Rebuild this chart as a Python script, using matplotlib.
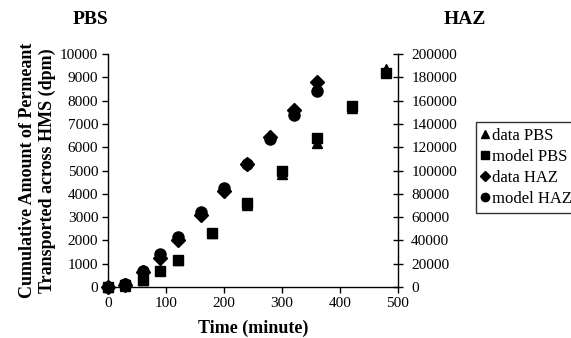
import matplotlib
matplotlib.use('Agg')
from matplotlib import pyplot as plt

plt.rcParams['font.family'] = ['Liberation Serif', 'DejaVu Serif']

# PBS (left axis)
t_pbs = [0, 30, 60, 90, 120, 180, 240, 300, 360, 420, 480]
data_pbs = [0, 40, 285, 710, 1170, 2310, 3500, 4860, 6170, 7680, 9350]
model_pbs = [0, 70, 310, 670, 1140, 2330, 3610, 4960, 6390, 7750, 9200]

# HAZ (right axis)
t_haz = [0, 30, 60, 90, 120, 160, 200, 240, 280, 320, 360]
data_haz = [0, 1400, 12900, 25000, 40000, 61400, 82000, 106000, 128600, 152000, 175700]
model_haz = [0, 2300, 13700, 28000, 42900, 64000, 85000, 106000, 127000, 148000, 168600]

fig = plt.figure(figsize=(5.71, 3.38), dpi=100)
ax = fig.add_axes([108 / 571, 1 - 287 / 338, 290 / 571, 233 / 338])
ax2 = ax.twinx()

h1, = ax.plot(t_pbs, data_pbs, '^', color='black', ms=7.5, clip_on=False, label='data PBS')
h2, = ax.plot(t_pbs, model_pbs, 's', color='black', ms=7, clip_on=False, label='model PBS')
h3, = ax2.plot(t_haz, data_haz, 'D', color='black', ms=7, clip_on=False, label='data HAZ')
h4, = ax2.plot(t_haz, model_haz, 'o', color='black', ms=8, clip_on=False, label='model HAZ')

ax.set_xlim(0, 500)
ax.set_ylim(0, 10000)
ax2.set_ylim(0, 200000)
ax.set_xticks(range(0, 501, 100))
ax.set_yticks(range(0, 10001, 1000))
ax2.set_yticks(range(0, 200001, 20000))

for a in (ax, ax2):
    a.spines['top'].set_visible(False)
    for s in a.spines.values():
        s.set_linewidth(1.0)
ax.spines['right'].set_visible(False)
ax2.spines['left'].set_visible(False)
ax2.spines['bottom'].set_visible(False)

ax.tick_params(axis='both', direction='out', length=4, width=1, labelsize=11, pad=3)
ax2.tick_params(axis='y', direction='inout', length=7, width=1, labelsize=11, pad=6)

ax.set_xlabel('Time (minute)', fontsize=13, fontweight='bold', labelpad=7)
ax.set_ylabel('Cumulative Amount of Permeant\nTransported across HMS (dpm)',
              fontsize=13, fontweight='bold', labelpad=3)

fig.text(91 / 571, 1 - 20 / 338, 'PBS', fontsize=14, fontweight='bold', ha='center', va='center')
fig.text(465 / 571, 1 - 20 / 338, 'HAZ', fontsize=14, fontweight='bold', ha='center', va='center')

leg = fig.legend(handles=[h1, h2, h3, h4], loc='upper left',
                 bbox_to_anchor=(476 / 571, 1 - 122 / 338), fontsize=12,
                 frameon=True, fancybox=False, handlelength=0.4, handletextpad=0.2,
                 borderpad=0.35, labelspacing=0.3, markerscale=0.75, borderaxespad=0)
leg.get_frame().set_edgecolor('black')
leg.get_frame().set_linewidth(1.0)

fig.savefig('out.png', dpi=100)
